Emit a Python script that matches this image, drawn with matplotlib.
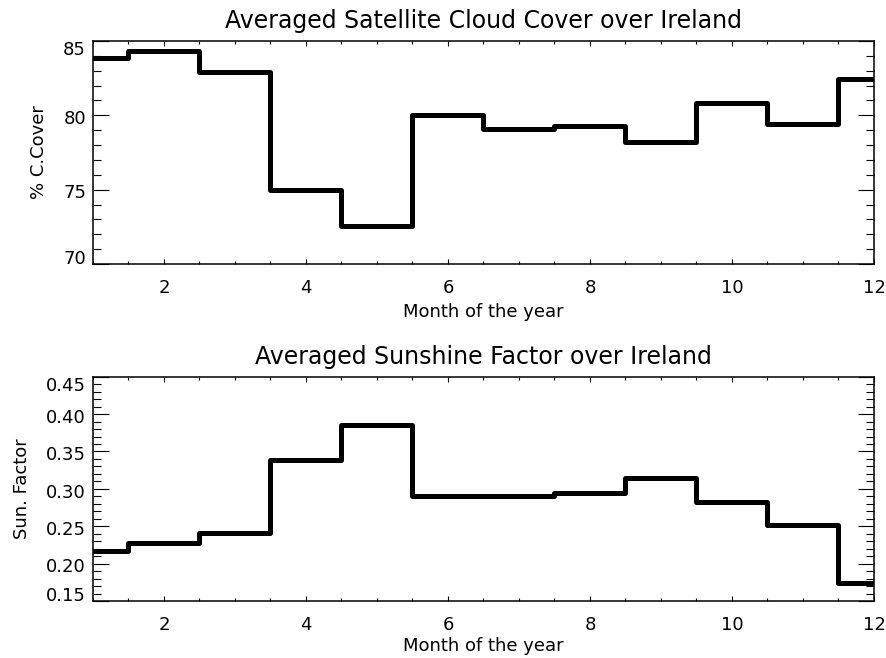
"""
Monthly averaged cloud cover and sunshine factor over Ireland
"""

import matplotlib
matplotlib.use("Agg")
import matplotlib.pyplot as plt
import matplotlib.transforms as mtransforms
from matplotlib.ticker import MultipleLocator

# Data
months = [1, 2, 3, 4, 5, 6, 7, 8, 9, 10, 11, 12]
cloud_cover = [83.85, 84.3, 82.9, 75.0, 72.55, 80.05, 79.05, 79.25, 78.2, 80.8, 79.4, 82.45]
sun_factor = [0.217, 0.228, 0.241, 0.339, 0.386, 0.290, 0.291, 0.294, 0.314, 0.282, 0.251, 0.174]

cloud_ticks = [70, 75, 80, 85]
sun_ticks = [0.15, 0.20, 0.25, 0.30, 0.35, 0.40, 0.45]
month_ticks = [2, 4, 6, 8, 10, 12]

plt.rcParams["font.family"] = "DejaVu Sans"

fig = plt.figure(figsize=(8.87, 6.58), dpi=100)
ax1 = fig.add_axes([0.1048, 0.5988, 0.8805, 0.3389])
ax2 = fig.add_axes([0.1048, 0.0866, 0.8805, 0.3409])


def style_axis(ax, vals, yticks, yminor, ylim, ylabel, title, fmt, xpad):
    ax.step(months, vals, where="mid", color="black", linewidth=3.6)
    ax.set_xlim(1, 12)
    ax.set_ylim(*ylim)
    ax.set_xticks(month_ticks)
    ax.set_xticklabels([str(m) for m in month_ticks])
    ax.xaxis.set_minor_locator(MultipleLocator(0.5))
    ax.set_yticks(yticks)
    ax.set_yticklabels([fmt % v for v in yticks])
    ax.yaxis.set_minor_locator(MultipleLocator(yminor))
    ax.tick_params(which="both", direction="in", top=True, right=True, width=0.8,
                   labelsize=13)
    ax.tick_params(axis="x", which="major", length=3.6, pad=11)
    ax.tick_params(axis="x", which="minor", length=2)
    ax.tick_params(axis="y", which="major", length=11.5, pad=5)
    ax.tick_params(axis="y", which="minor", length=5.8)
    for s in ax.spines.values():
        s.set_linewidth(1.1)
    ax.set_xlabel("Month of the year", fontsize=13, labelpad=xpad)
    ax.set_ylabel(ylabel, fontsize=13, labelpad=10.5)
    ax.set_title(title, fontsize=17, pad=9)

    # IDL pulls the end labels inward
    yt = ax.yaxis.get_major_ticks()
    shifts = {0: 5.0, len(yt) - 1: -5.4}
    for i, t in enumerate(yt):
        dy = shifts.get(i, -1.2)
        t.label1.set_transform(t.label1.get_transform()
                               + mtransforms.ScaledTranslation(0, dy / 72, fig.dpi_scale_trans))


style_axis(ax1, cloud_cover, cloud_ticks, 1, (70, 85), "% C.Cover",
           "Averaged Satellite Cloud Cover over Ireland", "%d", 4)
style_axis(ax2, sun_factor, sun_ticks, 0.01, (0.15, 0.45), "Sun. Factor",
           "Averaged Sunshine Factor over Ireland", "%.2f", 2)

fig.savefig("out.png", dpi=100)
